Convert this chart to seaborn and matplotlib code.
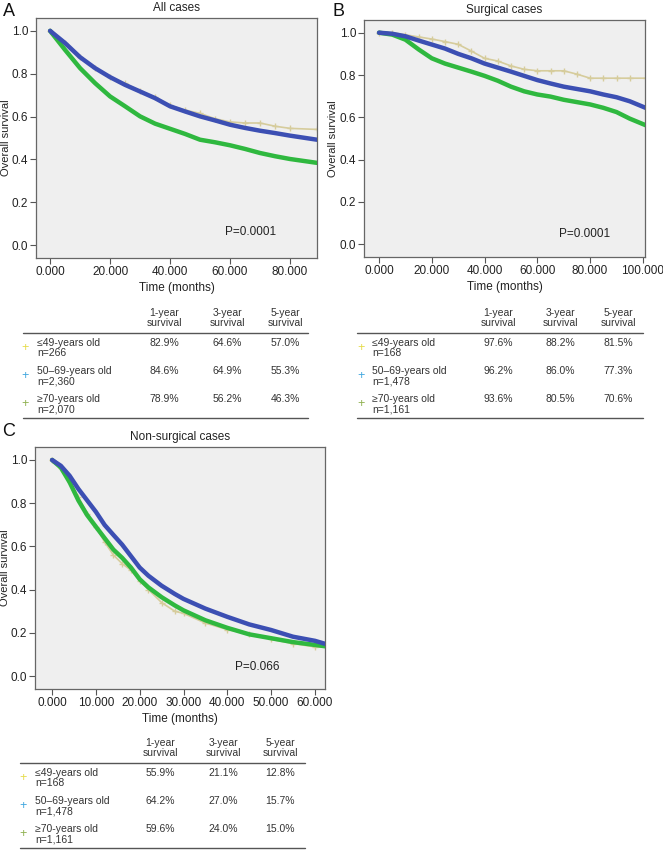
import numpy as np
import pandas as pd
import matplotlib
matplotlib.use("Agg")
import matplotlib.pyplot as plt
import seaborn as sns
from matplotlib.lines import Line2D
from matplotlib.ticker import FormatStrFormatter

sns.set_style("white")
plt.rcParams["font.family"] = ["Liberation Sans", "DejaVu Sans"]

groups = ["≤49-years old", "50–69-years old", "≥70-years old"]
line_colors = ["#d6cc9c", "#3c4fb3", "#2fb83f"]
mark_colors = ["#e6dc4a", "#3fa6df", "#8eb04e"]

# panel A: all cases (months, survival)
a_t = [0, 5, 10, 15, 20, 25, 30, 35, 40, 45, 50, 55, 60, 65, 70, 75, 80, 89]
a_young = [1.0, 0.943, 0.877, 0.826, 0.786, 0.755, 0.72, 0.69, 0.652, 0.63, 0.615, 0.59, 0.575, 0.57, 0.57, 0.555, 0.545, 0.54]
a_mid = [1.0, 0.943, 0.877, 0.826, 0.784, 0.748, 0.717, 0.686, 0.648, 0.624, 0.601, 0.582, 0.562, 0.547, 0.534, 0.523, 0.511, 0.492]
a_old = [1.0, 0.911, 0.826, 0.756, 0.694, 0.648, 0.601, 0.567, 0.543, 0.519, 0.492, 0.48, 0.466, 0.449, 0.43, 0.415, 0.402, 0.384]

# panel B: surgical cases
b_t = [0, 5, 10, 15, 20, 25, 30, 35, 40, 45, 50, 55, 60, 65, 70, 75, 80, 85, 90, 95, 101]
b_young = [1.0, 1.0, 0.99, 0.98, 0.97, 0.958, 0.945, 0.913, 0.879, 0.866, 0.843, 0.827, 0.82, 0.82, 0.82, 0.804, 0.785, 0.785, 0.785, 0.785, 0.785]
b_mid = [1.0, 0.995, 0.983, 0.963, 0.944, 0.925, 0.9, 0.879, 0.854, 0.835, 0.816, 0.796, 0.776, 0.76, 0.745, 0.734, 0.723, 0.708, 0.695, 0.676, 0.645]
b_old = [1.0, 0.991, 0.967, 0.921, 0.879, 0.854, 0.835, 0.816, 0.796, 0.773, 0.745, 0.723, 0.708, 0.698, 0.683, 0.672, 0.661, 0.645, 0.625, 0.594, 0.563]

# panel C: non-surgical cases
c_t = [0, 2, 4, 6, 8, 10, 12, 14, 16, 18, 20, 22, 25, 28, 30, 35, 40, 45, 50, 55, 60, 63]
c_young = [1.0, 0.965, 0.9, 0.83, 0.75, 0.69, 0.62, 0.56, 0.52, 0.49, 0.44, 0.4, 0.34, 0.3, 0.29, 0.245, 0.215, 0.195, 0.17, 0.15, 0.135, 0.133]
c_mid = [1.0, 0.973, 0.927, 0.866, 0.813, 0.76, 0.699, 0.653, 0.608, 0.555, 0.502, 0.464, 0.418, 0.38, 0.357, 0.312, 0.274, 0.239, 0.213, 0.182, 0.163, 0.145]
c_old = [1.0, 0.965, 0.897, 0.813, 0.745, 0.691, 0.638, 0.585, 0.547, 0.502, 0.448, 0.41, 0.365, 0.327, 0.304, 0.258, 0.223, 0.193, 0.175, 0.157, 0.144, 0.136]

header = ["1-year\nsurvival", "3-year\nsurvival", "5-year\nsurvival"]
a_n = ["n=266", "n=2,360", "n=2,070"]
a_rates = [["82.9%", "64.6%", "57.0%"], ["84.6%", "64.9%", "55.3%"], ["78.9%", "56.2%", "46.3%"]]
b_n = ["n=168", "n=1,478", "n=1,161"]
b_rates = [["97.6%", "88.2%", "81.5%"], ["96.2%", "86.0%", "77.3%"], ["93.6%", "80.5%", "70.6%"]]
c_n = ["n=168", "n=1,478", "n=1,161"]
c_rates = [["55.9%", "21.1%", "12.8%"], ["64.2%", "27.0%", "15.7%"], ["59.6%", "24.0%", "15.0%"]]

W, H = 663, 850
fig = plt.figure(figsize=(W / 100, H / 100), dpi=100)


def box(l, t, r, b):
    return [l / W, 1 - b / H, (r - l) / W, (b - t) / H]


def fx(x):
    return x / W


def fy(y):
    return 1 - y / H


def km_panel(ax, t, curves, xlim, xticks, title, pval, ppos, ylab_x):
    for i, s in enumerate(curves):
        d = pd.DataFrame({"t": t, "s": s})
        if i == 0:
            sns.lineplot(data=d, x="t", y="s", ax=ax, color=line_colors[i], lw=1.2,
                         marker="+", markersize=5, mew=1, mec=line_colors[i], zorder=2)
        else:
            sns.lineplot(data=d, x="t", y="s", ax=ax, color=line_colors[i], lw=3.2, zorder=5 - i)
    ax.set_facecolor("#efefef")
    ax.set_xlim(*xlim)
    ax.set_ylim(-0.06, 1.06)
    ax.set_xticks(xticks)
    ax.set_yticks(np.arange(0, 1.01, 0.2))
    ax.xaxis.set_major_formatter(FormatStrFormatter("%.3f"))
    ax.yaxis.set_major_formatter(FormatStrFormatter("%.1f"))
    ax.tick_params(axis="both", labelsize=8.5, length=4, width=0.8, color="#555", labelcolor="#222",
                   bottom=True, left=True, pad=1.5)
    for sp in ax.spines.values():
        sp.set_color("#666")
        sp.set_linewidth(0.9)
    ax.set_xlabel("Time (months)", fontsize=8.5, color="#222", labelpad=3)
    ax.set_ylabel("")
    pos = ax.get_position()
    fig.text(fx(ylab_x), (pos.y0 + pos.y1) / 2, "Overall survival", fontsize=8, color="#222",
             rotation=90, ha="center", va="center")
    ax.set_title(title, fontsize=8.5, color="#222", pad=5)
    ax.text(ppos[0], ppos[1], pval, fontsize=8.5, color="#222", ha="center", va="center")


def table(x0, x1, mx, lx, cols, y0, ns, rates):
    for j, h in enumerate(header):
        fig.text(fx(cols[j]), fy(y0 - 15), h, fontsize=7.5, color="#333", ha="center", va="center",
                 linespacing=1.1)
    for yy in (y0, y0 + 85):
        fig.add_artist(Line2D([fx(x0), fx(x1)], [fy(yy), fy(yy)], color="#555", lw=1))
    for i in range(3):
        ry = y0 + 10 + i * 28
        fig.text(fx(mx), fy(ry + 5), "+", fontsize=9, color=mark_colors[i], ha="center", va="center")
        fig.text(fx(lx), fy(ry), groups[i], fontsize=7.5, color="#333", ha="left", va="center")
        fig.text(fx(lx), fy(ry + 10), ns[i], fontsize=7.5, color="#333", ha="left", va="center")
        for j in range(3):
            fig.text(fx(cols[j]), fy(ry), rates[i][j], fontsize=7.5, color="#333", ha="center", va="center")


axA = fig.add_axes(box(36, 18, 317, 258))
km_panel(axA, a_t, [a_young, a_mid, a_old], (-4.7, 89), [0, 20, 40, 60, 80], "All cases",
         "P=0.0001", (66.7, 0.06), 6)
axB = fig.add_axes(box(364, 20, 645, 257))
km_panel(axB, b_t, [b_young, b_mid, b_old], (-5.7, 100.8), [0, 20, 40, 60, 80, 100], "Surgical cases",
         "P=0.0001", (78, 0.047), 333)
axC = fig.add_axes(box(35, 447, 325, 689))
km_panel(axC, c_t, [c_young, c_mid, c_old], (-3.9, 62.3), [0, 10, 20, 30, 40, 50, 60], "Non-surgical cases",
         "P=0.066", (46.8, 0.04), 5)

table(23, 308, 25, 37, [164, 227, 285], 333, a_n, a_rates)
table(357, 643, 361, 372, [498, 560, 618], 333, b_n, b_rates)
table(20, 305, 23, 35, [160, 223, 280], 763, c_n, c_rates)

for lab, x, y in [("A", 9, 11), ("B", 338, 12), ("C", 9, 432)]:
    fig.text(fx(x), fy(y), lab, fontsize=13, color="#111", ha="center", va="center")

fig.savefig("out.png", dpi=100, facecolor="white")
